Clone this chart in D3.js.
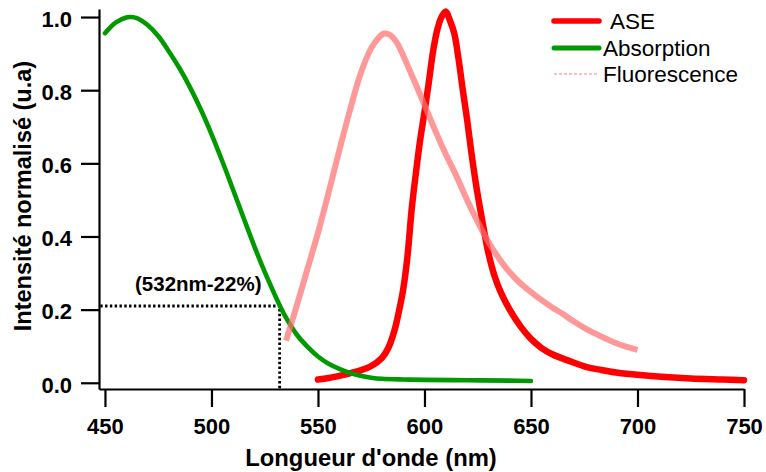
<!DOCTYPE html>
<html><head><meta charset="utf-8">
<script src="https://cdn.jsdelivr.net/npm/d3@7"></script>
<style>
body{margin:0;background:#fff;}
svg{display:block;}
text{font-family:"Liberation Sans",Arial,Helvetica,sans-serif;}
</style></head>
<body><svg id="c" width="766" height="472"></svg>
<script>
// ---- data ----
const absWl = [450,455,460,462,465,470,475,480,485,490,495,500,505,510,515,520,525,530,532,535,540,545,550,555,560,565,570,575,580,590,600,620,640,650];
const absVal = [0.956,0.985,0.999,1.0,0.997,0.978,0.948,0.906,0.860,0.807,0.747,0.680,0.607,0.530,0.452,0.375,0.303,0.237,0.212,0.178,0.132,0.099,0.072,0.052,0.038,0.027,0.019,0.014,0.011,0.009,0.008,0.007,0.006,0.005];
const aseWl = [550,555,560,565,570,575,580,583,586,588,590,592,594,596,598,600,602,604,606,608,610,612,614,616,618,620,622,624,626,628,630,633,636,640,645,650,655,660,667,675,683,690,700,713,725,740,750];
const aseVal = [0.009,0.013,0.019,0.026,0.034,0.046,0.068,0.095,0.145,0.195,0.255,0.345,0.475,0.575,0.665,0.74,0.82,0.905,0.965,1.0,1.015,0.99,0.955,0.885,0.80,0.72,0.63,0.55,0.48,0.415,0.355,0.29,0.245,0.20,0.155,0.12,0.095,0.078,0.062,0.045,0.035,0.028,0.022,0.016,0.012,0.009,0.007];
const fluoWl = [535,540,545,550,555,560,565,570,575,578,581,584,587,590,593,596,600,605,610,615,620,625,630,635,640,645,650,655,660,665,670,675,680,685,690,695,700];
const fluoVal = [0.115,0.21,0.31,0.41,0.52,0.635,0.745,0.845,0.915,0.94,0.955,0.95,0.93,0.895,0.855,0.815,0.76,0.69,0.625,0.565,0.50,0.44,0.385,0.34,0.302,0.272,0.248,0.226,0.206,0.188,0.168,0.150,0.135,0.121,0.108,0.098,0.090];
const xTicks = [450,500,550,600,650,700,750];
const yTicks = [0.0,0.2,0.4,0.6,0.8,1.0];
const seriesNames = ["ASE","Absorption","Fluorescence"];
const markWl = 532, markVal = 0.21;
const markLabel = "(532nm-22%)";

// ---- drawing ----
const svg = d3.select("#c");
const x = d3.scaleLinear().domain([447.2,750]).range([99,744]);
const y = d3.scaleLinear().domain([-0.017,1.022]).range([389,9]);

const zip = (a,b)=>a.map((v,i)=>[v,b[i]]);
const line = d3.line().x(d=>x(d[0])).y(d=>y(d[1])).curve(d3.curveCatmullRom.alpha(0.5));

// annotation dotted lines
svg.append("path")
  .attr("d", `M${x(447.8)},${y(markVal)}H${x(markWl)}V${y(-0.017)}`)
  .attr("fill","none").attr("stroke","#000").attr("stroke-width",2.8)
  .attr("stroke-dasharray","2.4,2.4");

svg.append("path").datum(zip(aseWl,aseVal)).attr("d",line)
  .attr("fill","none").attr("stroke","#ff0000").attr("stroke-width",6.5)
  .attr("stroke-linejoin","round").attr("stroke-linecap","round");
svg.append("path").datum(zip(absWl,absVal)).attr("d",line)
  .attr("fill","none").attr("stroke","#009900").attr("stroke-width",4.6)
  .attr("stroke-linejoin","round").attr("stroke-linecap","round");
svg.append("path").datum(zip(fluoWl,fluoVal)).attr("d",line)
  .attr("fill","none").attr("stroke","#ff7070").attr("stroke-opacity",0.72).attr("stroke-width",6);

// axes
const gx = svg.append("g").attr("transform","translate(0,389)")
  .call(d3.axisBottom(x).tickValues(xTicks).tickSize(18).tickSizeOuter(0).tickPadding(10).tickFormat(d3.format("d")));
const gy = svg.append("g").attr("transform","translate(99,0)")
  .call(d3.axisLeft(y).tickValues(yTicks).tickSize(18).tickSizeOuter(0).tickPadding(9).tickFormat(d3.format(".1f")));
[gx,gy].forEach(g=>{
  g.selectAll("path,line").attr("stroke","#000").attr("stroke-width",2.2);
  g.selectAll("text").attr("fill","#000").style("font-size","22px").style("font-weight","bold")
   .style("font-family",'"Liberation Sans",Arial,sans-serif');
});
gy.selectAll("text").attr("dy","0.42em");
gx.selectAll("text").attr("dy","0.75em");

// axis titles
svg.append("text").attr("x",371).attr("y",466).attr("text-anchor","middle")
  .style("font-size","23.8px").style("font-weight","bold").text("Longueur d'onde (nm)");
svg.append("text").attr("transform","translate(31,196) rotate(-90)").attr("text-anchor","middle")
  .style("font-size","23.5px").style("font-weight","bold").text("Intensité normalisé (u.a)");

// annotation label
svg.append("text").attr("x",135).attr("y",291)
  .style("font-size","20.5px").style("font-weight","bold").text(markLabel);

// legend
const leg = [
  {name:seriesNames[0], color:"#ff0000", w:5.5, dash:null, ly:21, tx:610, ty:29},
  {name:seriesNames[1], color:"#009900", w:5, dash:null, ly:48, tx:603, ty:56},
  {name:seriesNames[2], color:"#ff8080", w:1, dash:"3,2", ly:74, tx:603, ty:82}
];
leg.forEach(l=>{
  svg.append("line").attr("x1",554).attr("x2",599).attr("y1",l.ly).attr("y2",l.ly)
    .attr("stroke",l.color).attr("stroke-width",l.w).attr("stroke-linecap",l.dash?"butt":"round")
    .attr("stroke-dasharray",l.dash);
  svg.append("text").attr("x",l.tx).attr("y",l.ty).style("font-size","22.5px").text(l.name);
});
</script></body></html>
